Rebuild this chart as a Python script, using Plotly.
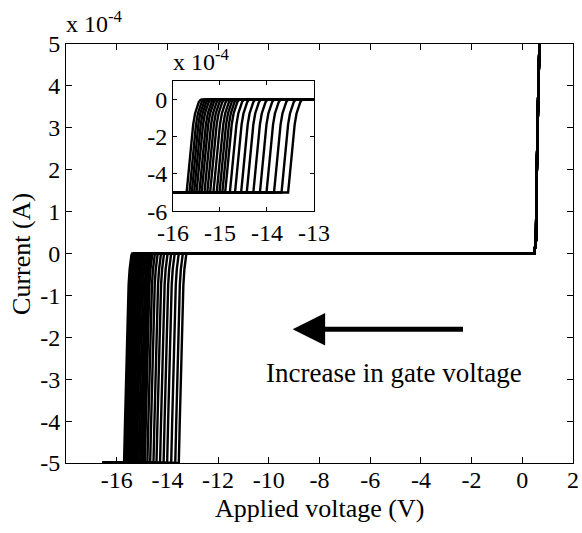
import plotly.graph_objects as go

# Turn-on voltages (V) of the reverse sweeps, one per gate-voltage step
onset_v = [-15.71, -15.65, -15.60, -15.55, -15.50, -15.44, -15.39, -15.33,
           -15.27, -15.21, -15.14, -15.07, -15.01, -14.95, -14.89, -14.79,
           -14.68, -14.55, -14.43, -14.29, -14.15, -14.01, -13.85, -13.69,
           -13.55]

# Shape of the current step, relative to the onset voltage
step_dv = [0.0, 0.035, 0.07, 0.105, 0.14, 0.18, 0.22, 0.26, 0.29, 0.32]
step_i = [-5.0, -4.1, -3.2, -2.25, -1.35, -0.75, -0.38, -0.14, -0.04, 0.0]

# Start of every sweep and the shared forward-bias branch (current in 1e-4 A)
sweep_start_v = -16.55
sweep_start_i = -5.0
forward_v = [0.47, 0.54, 0.56, 0.63, 0.68, 0.70]
forward_i = [0.0, 0.31, 1.55, 3.84, 5.0, 5.6]

main_xticks = [-16, -14, -12, -10, -8, -6, -4, -2, 0, 2]
main_yticks = [5, 4, 3, 2, 1, 0, -1, -2, -3, -4, -5]
inset_xticks = [-16, -15, -14, -13]
inset_yticks = [0, -2, -4, -6]

FONT = "Liberation Serif, Times New Roman, serif"


def label(v):
    return str(v)


fig = go.Figure()

for v0 in onset_v:
    vs = [sweep_start_v] + [v0 + d for d in step_dv] + forward_v
    cs = [sweep_start_i] + step_i + forward_i
    for xa, ya in (("x", "y"), ("x2", "y2")):
        fig.add_trace(go.Scatter(
            x=vs, y=cs, xaxis=xa, yaxis=ya, mode="lines",
            line=dict(color="black", width=2.4),
            hoverinfo="skip", showlegend=False,
        ))

axis_common = dict(
    showline=True, linecolor="black", linewidth=1, mirror="ticks",
    ticks="inside", tickcolor="black", showgrid=False, zeroline=False,
    automargin=False,
    tickfont=dict(family=FONT, size=24, color="black"),
)

fig.update_layout(
    width=582, height=533,
    margin=dict(l=66, r=9, t=44, b=70),
    paper_bgcolor="white", plot_bgcolor="white",
    xaxis=dict(
        range=[-18, 2], tickvals=main_xticks,
        ticktext=[label(v) for v in main_xticks], ticklen=6,
        ticklabelstandoff=-5,
        **axis_common,
    ),
    yaxis=dict(
        range=[-5, 5], tickvals=main_yticks,
        ticktext=[label(v) for v in main_yticks], ticklen=6,
        **axis_common,
    ),
    xaxis2=dict(
        domain=[0.211, 0.489], anchor="y2",
        range=[-16, -13], tickvals=inset_xticks,
        ticktext=[label(v) for v in inset_xticks], ticklen=4,
        **axis_common,
    ),
    yaxis2=dict(
        domain=[0.601, 0.912], anchor="x2",
        range=[-6, 1], tickvals=inset_yticks,
        ticktext=[label(v) for v in inset_yticks], ticklen=4,
        **axis_common,
    ),
)

# Axis titles
fig.add_annotation(
    text="Applied voltage (V)", xref="paper", yref="paper",
    x=0.5, y=-0.108, xanchor="center", yanchor="middle", showarrow=False,
    font=dict(family=FONT, size=26, color="black"),
)
fig.add_annotation(
    text="Current (A)", xref="paper", yref="paper", textangle=-90,
    x=-0.088, y=0.50, xanchor="center", yanchor="middle", showarrow=False,
    font=dict(family=FONT, size=26, color="black"),
)

# Exponent labels for both current axes
fig.add_annotation(
    text="x 10<sup>-4</sup>", xref="paper", yref="paper",
    x=-0.004, y=1.012, xanchor="left", yanchor="bottom", showarrow=False,
    font=dict(family=FONT, size=24, color="black"),
)
fig.add_annotation(
    text="x 10<sup>-4</sup>", xref="paper", yref="paper",
    x=0.208, y=0.922, xanchor="left", yanchor="bottom", showarrow=False,
    font=dict(family=FONT, size=24, color="black"),
)

# Arrow and caption for the gate-voltage trend
fig.add_annotation(
    x=-9.06, y=-1.81, ax=-2.28, ay=-1.81, xref="x", yref="y",
    axref="x", ayref="y", text="", showarrow=True,
    arrowhead=2, arrowsize=1.3, arrowwidth=5, arrowcolor="black",
)
fig.add_annotation(
    text="Increase in gate voltage", x=-5.06, y=-2.84, xref="x", yref="y",
    xanchor="center", yanchor="middle", showarrow=False,
    font=dict(family=FONT, size=27, color="black"),
)

fig.write_html("out.html")
